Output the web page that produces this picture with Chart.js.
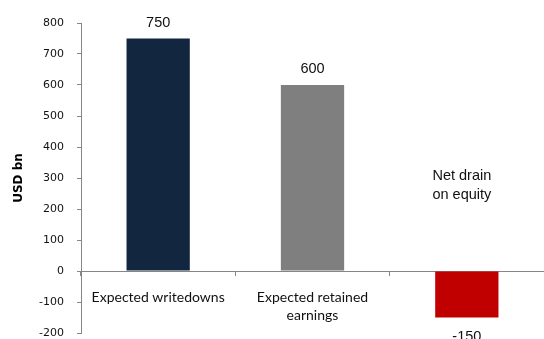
<!DOCTYPE html>
<html>
<head>
<meta charset="utf-8">
<script src="https://cdn.jsdelivr.net/npm/chart.js@4/dist/chart.umd.min.js"></script>
<style>
  html,body{margin:0;padding:0;background:#fff;}
  #wrap{width:544px;height:339px;position:relative;}
</style>
</head>
<body>
<div id="wrap"><canvas id="chart"></canvas></div>
<script>
// Equity impact, USD bn
const categories = [['Expected writedowns'], ['Expected retained', 'earnings'], ['']];
const values = [750, 600, -150];
const barColors = ['#13263f', '#7f7f7f', '#c00000'];
const yTicks = { min: -200, max: 800, step: 100 };
const noteLines = ['Net drain', 'on equity'];
const noteAt = { index: 2, value: 305 };

// value labels above / below each bar, plus the note
const valueLabels = {
  id: 'valueLabels',
  afterDatasetsDraw(chart) {
    const ctx = chart.ctx;
    const meta = chart.getDatasetMeta(0);
    ctx.save();
    ctx.font = '14.5px "Liberation Sans", Arial, sans-serif';
    ctx.fillStyle = '#111';
    ctx.textAlign = 'center';
    ctx.textBaseline = 'middle';
    meta.data.forEach((bar, i) => {
      const v = values[i];
      const y = v >= 0 ? bar.y - 16 : bar.y + 19;
      ctx.fillText(String(v), bar.x, y);
    });
    const x = chart.scales.x.getPixelForValue(noteAt.index) - 5;
    const y0 = chart.scales.y.getPixelForValue(noteAt.value);
    noteLines.forEach((t, i) => ctx.fillText(t, x, y0 + i * 19));
    ctx.restore();
  }
};

new Chart(document.getElementById('chart'), {
  type: 'bar',
  data: {
    labels: categories,
    datasets: [{ data: values, backgroundColor: barColors, barPercentage: 0.41, categoryPercentage: 1 }]
  },
  options: {
    responsive: true,
    maintainAspectRatio: false,
    animation: false,
    layout: { padding: { top: 23, bottom: 6, left: 0, right: 0 } },
    plugins: { legend: { display: false }, tooltip: { enabled: false } },
    scales: {
      x: {
        position: { y: 0 },
        afterFit(scale) { scale.height = 0; },
        grid: { drawOnChartArea: false, offset: true, tickLength: 4, color: '#868686' },
        border: { color: '#868686', width: 1 },
        ticks: {
          color: '#111', padding: 13, maxRotation: 0, autoSkip: false,
          font: { family: 'Lato, "Open Sans", sans-serif', size: 14, lineHeight: 1.3 }
        }
      },
      y: {
        min: yTicks.min, max: yTicks.max,
        afterFit(scale) {
          scale.width = 81;
          // label padding shouldn't shrink the plot vertically
          scale.paddingTop = 0;
          scale.paddingBottom = 0;
        },
        grid: { drawOnChartArea: false, tickLength: 4, color: '#868686' },
        border: { color: '#868686', width: 1 },
        ticks: {
          stepSize: yTicks.step, padding: 13, color: '#111',
          font: { family: '"DejaVu Sans", Verdana, sans-serif', size: 11 }
        },
        title: {
          display: true, text: 'USD bn', color: '#000',
          padding: { top: 12, bottom: 0 },
          font: { family: '"DejaVu Sans", Verdana, sans-serif', size: 12, weight: 'bold' }
        }
      }
    }
  },
  plugins: [valueLabels]
});
</script>
</body>
</html>
